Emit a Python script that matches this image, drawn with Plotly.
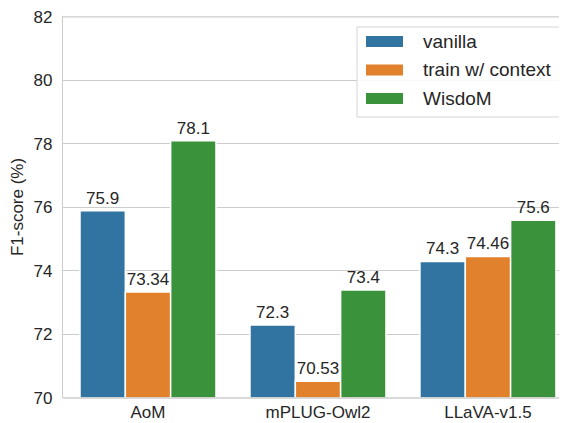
import plotly.graph_objects as go

categories = ["AoM", "mPLUG-Owl2", "LLaVA-v1.5"]
series_names = ["vanilla", "train w/ context", "WisdoM"]
vanilla = [75.9, 72.3, 74.3]
train_ctx = [73.34, 70.53, 74.46]
wisdom = [78.1, 73.4, 75.6]
labels_vanilla = ["75.9", "72.3", "74.3"]
labels_train = ["73.34", "70.53", "74.46"]
labels_wisdom = ["78.1", "73.4", "75.6"]
colors = ["#3274a1", "#e1812c", "#3a923a"]
y_ticks = [70, 72, 74, 76, 78, 80, 82]

FONT = "Liberation Sans, Arial, sans-serif"
TXT = "#262626"

# figure size accounts for the 8px default body margin of the page
W, H = 559, 415
ML, MR, MT, MB = 55, 0, 8, 25
PW, PH = W - ML - MR, H - MT - MB


def px(x):
    return (x - ML) / PW


def py(y):
    return (H - MB - y) / PH


fig = go.Figure()
xs = list(range(len(categories)))
for name, vals, labs, col in zip(series_names, [vanilla, train_ctx, wisdom],
                                 [labels_vanilla, labels_train, labels_wisdom], colors):
    fig.add_trace(go.Bar(
        x=xs, y=[v - 70 for v in vals], base=70, name=name,
        marker=dict(color=col, line=dict(color="white", width=1.5)),
        text=labs, textposition="outside", cliponaxis=False,
        textfont=dict(family=FONT, size=17, color=TXT),
        showlegend=False,
    ))

# top grid line (at the edge of the axis range)
shapes = [dict(type="line", xref="paper", yref="y", x0=0, x1=1, y0=y_ticks[-1], y1=y_ticks[-1],
               line=dict(color="#cccccc", width=1.2), layer="below")]
# legend drawn manually (wide swatches as in the reference)
shapes.append(dict(type="rect", xref="paper", yref="paper",
                   x0=px(349), x1=px(555), y0=py(19), y1=py(109),
                   line=dict(color="#d5d5d5", width=1), fillcolor="rgba(255,255,255,0.85)",
                   layer="above"))
annotations = []
row_y = [33.5, 62, 90.5]
for name, col, yc in zip(series_names, colors, row_y):
    shapes.append(dict(type="rect", xref="paper", yref="paper",
                       x0=px(358), x1=px(395), y0=py(yc + 5.5), y1=py(yc - 5.5),
                       line=dict(width=0), fillcolor=col, layer="above"))
    annotations.append(dict(xref="paper", yref="paper", x=px(413), y=py(yc),
                            xanchor="left", yanchor="middle", text=name, showarrow=False,
                            font=dict(family=FONT, size=19, color=TXT)))
# bottom spine
shapes.append(dict(type="line", xref="paper", yref="paper", x0=0, x1=1, y0=0, y1=0,
                   line=dict(color="#cccccc", width=1.5), layer="above"))

fig.update_layout(
    width=W, height=H,
    margin=dict(l=ML, r=MR, t=MT, b=MB, autoexpand=False),
    paper_bgcolor="white", plot_bgcolor="white",
    barmode="group", bargap=0.2, bargroupgap=0,
    font=dict(family=FONT, size=17, color=TXT),
    showlegend=False,
    shapes=shapes, annotations=annotations,
)
fig.update_xaxes(
    range=[-0.5, 2.465], tickvals=xs, ticktext=categories,
    showgrid=False, showline=False, zeroline=False, ticks="",
    tickfont=dict(family=FONT, size=17, color=TXT),
    automargin=False, ticklabelstandoff=2,
)
fig.update_yaxes(
    range=[70, 82.03], tickvals=y_ticks, ticktext=[str(t) for t in y_ticks],
    showgrid=True, gridcolor="#cccccc", gridwidth=1.2,
    showline=True, linecolor="#cccccc", linewidth=1.2, zeroline=False,
    ticks="", tickfont=dict(family=FONT, size=17, color=TXT),
    automargin=False, ticklabelstandoff=6, ticklabeloverflow="allow",
    title=dict(text="F1-score (%)", font=dict(family=FONT, size=17, color=TXT), standoff=8),
)
fig.write_html("out.html")
